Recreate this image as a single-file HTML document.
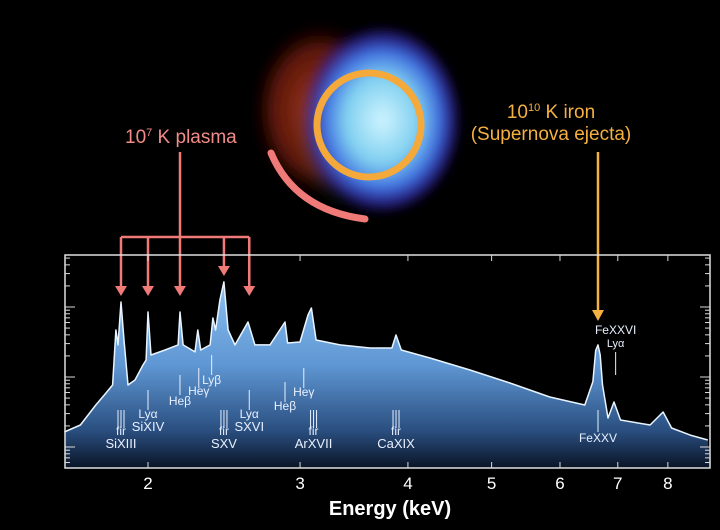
<!DOCTYPE html>
<html><head><meta charset="utf-8">
<style>
html,body{margin:0;padding:0;background:#000;}
svg{display:block;font-family:"Liberation Sans",sans-serif;}
</style></head>
<body>
<svg id="chart" width="720" height="530" viewBox="0 0 720 530">
<defs>
  <linearGradient id="specFill" gradientUnits="userSpaceOnUse" x1="0" y1="280" x2="0" y2="468">
    <stop offset="0" stop-color="#8cc0f0"/>
    <stop offset="0.45" stop-color="#5f97d4"/>
    <stop offset="0.8" stop-color="#2a4f80"/>
    <stop offset="1" stop-color="#0a1426"/>
  </linearGradient>
  <radialGradient id="redHalo" cx="0.5" cy="0.5" r="0.5">
    <stop offset="0" stop-color="#c04020" stop-opacity="0.9"/>
    <stop offset="0.7" stop-color="#802010" stop-opacity="0.7"/>
    <stop offset="1" stop-color="#300000" stop-opacity="0"/>
  </radialGradient>
  <radialGradient id="blueCore" cx="0.5" cy="0.5" r="0.5">
    <stop offset="0" stop-color="#d0f4ff"/>
    <stop offset="0.45" stop-color="#80d0f0"/>
    <stop offset="0.72" stop-color="#4070e0"/>
    <stop offset="0.9" stop-color="#3020a0" stop-opacity="0.7"/>
    <stop offset="1" stop-color="#100040" stop-opacity="0"/>
  </radialGradient>
  <radialGradient id="greenMid" cx="0.5" cy="0.5" r="0.5">
    <stop offset="0" stop-color="#90c8a0" stop-opacity="0.8"/>
    <stop offset="1" stop-color="#407050" stop-opacity="0"/>
  </radialGradient>
  <filter id="blur3"><feGaussianBlur stdDeviation="5"/></filter>
</defs>

<g id="nebula" filter="url(#blur3)">
  <ellipse cx="320" cy="110" rx="68" ry="88" fill="url(#redHalo)"/>
  <ellipse cx="345" cy="130" rx="50" ry="75" fill="url(#greenMid)"/>
  <ellipse cx="382" cy="120" rx="80" ry="95" fill="url(#blueCore)"/>
</g>
<circle cx="369" cy="125" r="52" fill="none" stroke="#f4a93a" stroke-width="7"/>
<path d="M271,153 Q295,210 365,219" fill="none" stroke="#f07a78" stroke-width="7" stroke-linecap="round"/>

<text x="125" y="143" fill="#f28c88" font-size="19">10<tspan font-size="11" dy="-7">7</tspan><tspan dy="7"> K plasma</tspan></text>
<text x="551" y="118" fill="#f4b040" font-size="19" text-anchor="middle">10<tspan font-size="11" dy="-7">10</tspan><tspan dy="7"> K iron</tspan></text>
<text x="551" y="140" fill="#f4b040" font-size="19" text-anchor="middle">(Supernova ejecta)</text>

<g id="pinkArrows" stroke="#f07a78" stroke-width="2.5" fill="none"></g>
<g id="orangeArrow"></g>

<g id="plot"></g>
<g id="labels" fill="#e8f0ff" font-size="11"></g>
<g id="xaxis"></g>
<text x="390" y="515" fill="#fff" font-size="20" font-weight="bold" text-anchor="middle">Energy (keV)</text>
</svg>
<script>
// ---- data ----
const energies = [1.60,1.67,1.74,1.78,1.82,1.836,1.846,1.861,1.876,1.896,1.932,1.973,1.99,2.0,2.016,2.093,2.167,2.178,2.196,2.267,2.284,2.302,2.36,2.378,2.395,2.423,2.449,2.476,2.522,2.611,2.66,2.769,2.882,2.902,3.0,3.064,3.092,3.131,3.337,3.615,3.833,3.875,3.93,4.243,4.72,5.25,5.84,6.41,6.55,6.6,6.64,6.68,6.72,6.82,6.93,7.05,7.63,7.90,8.08,8.49,8.9];
const flux = [1.64,2.06,3.98,5.53,7.69,46.9,28.7,118,33.8,7.69,9.06,14.8,17.5,84.8,20.6,24.3,28.7,84.8,28.7,22.8,46.9,24.3,28.7,69.6,46.9,126,228,46.9,28.7,61,28.7,28.7,61,30.6,31.6,76.9,96.8,33.8,28.7,26,26,39.8,24.3,18.7,12.6,8.2,5.18,3.98,8.6,24,28.7,20.6,7.7,2.6,4.4,2.43,2.06,3.16,1.87,1.48,1.26];
const xTicks = [2,3,4,5,6,7,8];
const lineLabels = [
 {e:1.861,t:"fir",t2:"SiXIII",ly:435,bar:[410,428],triple:true},
 {e:2.0,t:"Lyα",t2:"SiXIV",ly:418,bar:[390,410]},
 {e:2.178,t:"Heβ",ly:405,bar:[375,395]},
 {e:2.29,t:"Heγ",ly:395,bar:[368,388]},
 {e:2.37,t:"Lyβ",ly:384,bar:[355,375]},
 {e:2.449,t:"fir",t2:"SXV",ly:435,bar:[410,428],triple:true},
 {e:2.62,t:"Lyα",t2:"SXVI",ly:418,bar:[390,410]},
 {e:2.882,t:"Heβ",ly:410,bar:[382,402]},
 {e:3.03,t:"Heγ",ly:396,bar:[368,388]},
 {e:3.11,t:"fir",t2:"ArXVII",ly:435,bar:[410,428],triple:true},
 {e:3.875,t:"fir",t2:"CaXIX",ly:435,bar:[410,428],triple:true},
 {e:6.64,t:"FeXXV",ly:442,bar:[410,432],below:true},
 {e:6.96,t:"FeXXVI",t2:"Lyα",ly:334,bar:[352,375],above:true}
];
// ---- scales ----
const X0=65,X1=710,Y0=255,Y1=468;
const xs = e => 148 + 375*Math.log(e/2);
const ys = v => 447 - 70*Math.log10(v);
const NS="http://www.w3.org/2000/svg";
function mk(tag,attrs,parent){const el=document.createElementNS(NS,tag);for(const k in attrs)el.setAttribute(k,attrs[k]);parent.appendChild(el);return el;}
const plot=document.getElementById('plot');
let d="M"+X0+","+Y1;
let ld="";
energies.forEach((e,i)=>{const x=xs(e),y=ys(flux[i]);d+=" L"+x.toFixed(1)+","+y.toFixed(1);ld+=(i?" L":"M")+x.toFixed(1)+","+y.toFixed(1);});
d+=" L"+X1+","+Y1+" Z";
const area=mk('path',{d:d,fill:'url(#specFill)'},plot);


const line=mk('path',{d:ld,fill:'none',stroke:'#e8f4ff','stroke-width':1.5,'stroke-linejoin':'round'},plot);


const frame=mk('rect',{x:X0,y:Y0,width:X1-X0,height:Y1-Y0,fill:'none',stroke:'#e0e0e0','stroke-width':1.5},plot);


const ax=document.getElementById('xaxis');
for(let dec=-1;dec<=3;dec++){for(let m=1;m<=9;m++){const v=m*Math.pow(10,dec);const y=ys(v);if(y<Y0+1||y>Y1-1)continue;const L=m==1?10:5;
 const t1=mk('line',{x1:X0,x2:X0+L,y1:y,y2:y,stroke:'#ddd','stroke-width':1},ax);
 const t2=mk('line',{x1:X1,x2:X1-L,y1:y,y2:y,stroke:'#ddd','stroke-width':1},ax);}}
xTicks.forEach(e=>{const x=xs(e);
 const t=mk('line',{x1:x,x2:x,y1:Y1,y2:Y1-6,stroke:'#ddd','stroke-width':1},ax);
 const tt=mk('line',{x1:x,x2:x,y1:Y0,y2:Y0+6,stroke:'#ddd','stroke-width':1},ax);
 const lb=mk('text',{x:x,y:489,fill:'#fff','font-size':17,'text-anchor':'middle'},ax);lb.textContent=e;});
const lg=document.getElementById('labels');
lineLabels.forEach(o=>{const x=xs(o.e);
 const offs=o.triple?[-3,0,3]:[0];
 offs.forEach(dx=>{const b=mk('line',{x1:x+dx,x2:x+dx,y1:o.bar[0],y2:o.bar[1],stroke:'#e8f0ff','stroke-width':1},lg);});
 const t=mk('text',{x:x,y:o.ly,'text-anchor':'middle','font-size':12},lg);t.textContent=o.t;
 if(o.t2){const t2=mk('text',{x:x,y:o.ly+13,'text-anchor':'middle','font-size':o.above?11:13},lg);t2.textContent=o.t2;}
});
const pa=document.getElementById('pinkArrows');
const arrowE=[1.861,2.0,2.178,2.449,2.62];
const arrowTip=[296,296,296,276,296];
mk('line',{x1:180,x2:180,y1:152,y2:237},pa);
mk('line',{x1:xs(arrowE[0]),x2:xs(arrowE[4]),y1:237,y2:237},pa);
arrowE.forEach((e,i)=>{const x=xs(e);const tip=arrowTip[i];
 const s=mk('line',{x1:x,x2:x,y1:237,y2:tip-8},pa);
 const h=mk('polygon',{points:(x-6)+","+(tip-10)+" "+(x+6)+","+(tip-10)+" "+x+","+tip,fill:'#f07a78',stroke:'none'},pa);});
const oa=document.getElementById('orangeArrow');
const ox=xs(6.64);
mk('line',{x1:ox,x2:ox,y1:152,y2:312,stroke:'#f4b040','stroke-width':2.5},oa);
mk('polygon',{points:(ox-6)+",310 "+(ox+6)+",310 "+ox+",321",fill:'#f4b040'},oa);
</script>
</body></html>
